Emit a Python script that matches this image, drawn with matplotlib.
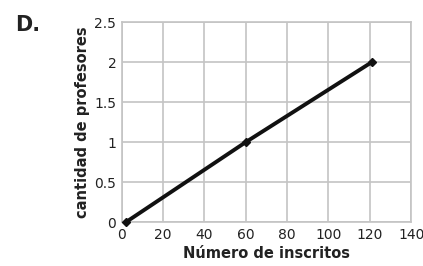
import matplotlib
matplotlib.use("Agg")
import matplotlib.pyplot as plt

# data
inscritos = [2, 60, 121]
profesores = [0, 1, 2]
x_ticks = [0, 20, 40, 60, 80, 100, 120, 140]
y_ticks = [0, 0.5, 1, 1.5, 2, 2.5]
y_labels = ["0", "0.5", "1", "1.5", "2", "2.5"]

fig = plt.figure(figsize=(4.23, 2.66), dpi=100)
ax = fig.add_axes([0.288, 0.165, 0.684, 0.752])

ax.plot(inscritos, profesores, color="#111111", linewidth=2.8,
        marker="D", markersize=4.5, zorder=3, clip_on=False)

ax.set_xlim(0, 140)
ax.set_ylim(0, 2.5)
ax.set_xticks(x_ticks)
ax.set_yticks(y_ticks)
ax.set_yticklabels(y_labels)
ax.grid(True, color="#c4c4c4", linewidth=1.2)
ax.set_axisbelow(True)
for s in ax.spines.values():
    s.set_color("#c4c4c4")
    s.set_linewidth(1.2)
ax.tick_params(length=0, labelsize=10, colors="#222222", pad=4)

ax.set_xlabel("Número de inscritos", fontsize=10.5, fontweight="bold",
              labelpad=3, color="#222222")
ax.set_ylabel("cantidad de profesores", fontsize=10.5, fontweight="bold",
              labelpad=3, color="#222222")

fig.text(0.036, 0.885, "D.", fontsize=15, fontweight="bold", color="#222222")

fig.savefig("out.png", dpi=100)
